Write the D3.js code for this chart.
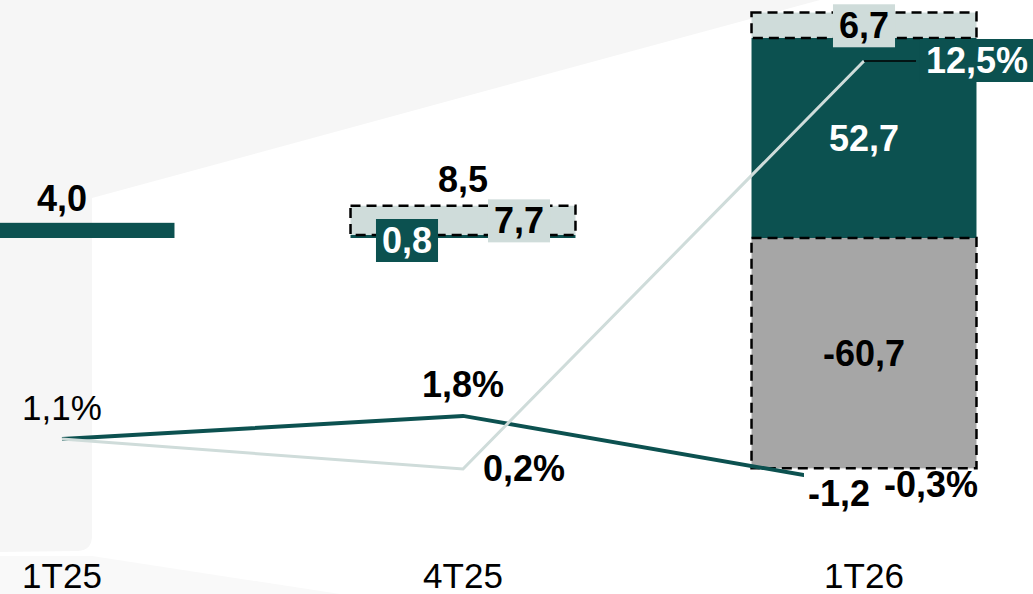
<!DOCTYPE html>
<html>
<head>
<meta charset="utf-8">
<script src="https://cdn.jsdelivr.net/npm/d3@7"></script>
<style>
    body { margin: 0; background: #fff; }
    svg { display: block; font-family: "Liberation Sans", Arial, sans-serif; }
    .lbl { font-size: 36px; font-weight: bold; fill: #000; }
    .reg { font-weight: normal; font-size: 35px; }
    .white { fill: #fff; }
</style>
</head>
<body>
<div id="chart"></div>
<script>
const categories = ["1T25", "4T25", "1T26"]
const darkValues = [4.0, 0.8, 52.7]
const lightValues = [0, 7.7, 6.7]
const grayValues = [0, 0, -60.7]
const totalLabels = ["4,0", "8,5", "-1,2"]
const darkText = ["", "0,8", "52,7"]
const lightText = ["", "7,7", "6,7"]
const grayText = ["", "", "-60,7"]
const lineDark = [1.1, 1.8, -0.3]
const lineLight = [1.1, 0.2, 12.5]
const lineDarkText = ["1,1%", "1,8%", "-0,3%"]
const lineLightText = ["", "0,2%", "12,5%"]

const teal = "#0c5150", light = "#cfdcda", gray = "#a6a6a6", bg = "#f6f6f6"
const width = 1033, height = 594

const svg = d3.select("#chart").append("svg")
    .attr("width", width)
    .attr("height", height)

// background shapes
svg.append("path")
    .attr("d", "M0,0 L820,0 L92,198 L92,536 Q92,550 78,551 L0,552 Z")
    .attr("fill", bg)
svg.append("path")
    .attr("d", "M0,556 L92,556 L340,594 L0,594 Z")
    .attr("fill", "#f9f9f9")

const x = d3.scaleBand()
    .domain(categories)
    .range([-138.5, 1064.5])
    .paddingInner(0.439)
    .paddingOuter(0.2195)
const cx = (c) => x(c) + x.bandwidth() / 2

const y = d3.scaleLinear().domain([0, 52.7]).range([238, 38])
const yp = d3.scaleLinear().domain([0, 12.5]).range([475.6, 61])

const rows = categories.map((c, i) => ({
    cat: c, dark: darkValues[i], light: lightValues[i], gray: grayValues[i], i: i
}))

const bars = svg.append("g")
// teal segment
bars.selectAll(".dark").data(rows).enter().append("rect")
    .attr("x", (d) => x(d.cat))
    .attr("width", x.bandwidth())
    .attr("y", (d) => y(d.dark))
    .attr("height", (d) => y(0) - y(d.dark))
    .attr("fill", teal)
// light dashed segment
bars.selectAll(".light").data(rows.filter((d) => d.light > 0)).enter().append("rect")
    .attr("x", (d) => x(d.cat))
    .attr("width", x.bandwidth())
    .attr("y", (d) => y(d.dark + d.light))
    .attr("height", (d) => y(d.dark) - y(d.dark + d.light))
    .attr("fill", light)
    .attr("stroke", "#000")
    .attr("stroke-width", 2.5)
    .attr("stroke-dasharray", "10,6")
// gray negative segment
bars.selectAll(".gray").data(rows.filter((d) => d.gray < 0)).enter().append("rect")
    .attr("x", (d) => x(d.cat))
    .attr("width", x.bandwidth())
    .attr("y", y(0))
    .attr("height", (d) => y(d.gray) - y(0))
    .attr("fill", gray)
    .attr("stroke", "#000")
    .attr("stroke-width", 2.5)
    .attr("stroke-dasharray", "10,6")

// lines
const lineD = d3.line().x((d, i) => cx(categories[i])).y((d) => yp(d))
svg.append("path")
    .datum(lineDark)
    .attr("d", lineD)
    .attr("fill", "none")
    .attr("stroke", teal)
    .attr("stroke-width", 4)
svg.append("path")
    .datum(lineLight)
    .attr("d", lineD)
    .attr("fill", "none")
    .attr("stroke", light)
    .attr("stroke-width", 3)

// helper: text with optional background box
function label(px, py, txt, opts) {
    opts = opts || {}
    const g = svg.append("g")
    const t = g.append("text")
        .attr("class", "lbl" + (opts.cls ? " " + opts.cls : ""))
        .attr("x", px)
        .attr("y", py)
        .attr("text-anchor", opts.anchor || "middle")
        .text(txt)
    if (opts.box) {
        const b = t.node().getBBox()
        const pad = opts.pad || 4
        g.insert("rect", "text")
            .attr("x", b.x - pad)
            .attr("y", b.y - 1)
            .attr("width", b.width + pad * 2)
            .attr("height", b.height + 2)
            .attr("fill", opts.box)
    }
    return g
}

// totals
label(cx(categories[0]), y(darkValues[0]) - 12, totalLabels[0])
label(cx(categories[1]), y(darkValues[1] + lightValues[1]) - 14, totalLabels[1])
const net = y(grayValues[2])
label(cx(categories[2]) - 25, net + 38, totalLabels[2], { box: "#fff", pad: 4 })

// segment values
label(cx(categories[1]) - 56, y(0) + 15, darkText[1], { box: teal, cls: "white", pad: 6 })
label(cx(categories[1]) + 56, y(darkValues[1] + lightValues[1] / 2) + 13, lightText[1], { box: light, pad: 6 })
label(cx(categories[2]), y(darkValues[2] / 2) + 13, darkText[2], { cls: "white" })
label(cx(categories[2]), y(darkValues[2] + lightValues[2] / 2) + 13, lightText[2], { box: light, pad: 6 })
label(cx(categories[2]), y(grayValues[2] / 2) + 13, grayText[2])

// line labels
label(cx(categories[0]), yp(lineDark[0]) - 19, lineDarkText[0], { cls: "reg" })
label(cx(categories[1]), yp(lineDark[1]) - 19, lineDarkText[1])
label(cx(categories[1]) + 61, yp(lineLight[1]) + 12, lineLightText[1])
label(cx(categories[2]) + 67, yp(lineDark[2]) + 11, lineDarkText[2])

// 12,5% callout with leader line
const p = { x: cx(categories[2]), y: yp(lineLight[2]) }
svg.append("line")
    .attr("x1", p.x).attr("y1", p.y)
    .attr("x2", p.x + 52).attr("y2", p.y)
    .attr("stroke", "#000")
    .attr("stroke-width", 1.5)
label(p.x + 113, p.y + 12, lineLightText[2], { box: teal, cls: "white", pad: 6 })

// category labels
svg.append("g").selectAll("text")
    .data(categories)
    .enter().append("text")
    .attr("class", "lbl reg")
    .attr("x", (d) => cx(d))
    .attr("y", 588)
    .attr("text-anchor", "middle")
    .text((d) => d)
</script>
</body>
</html>
